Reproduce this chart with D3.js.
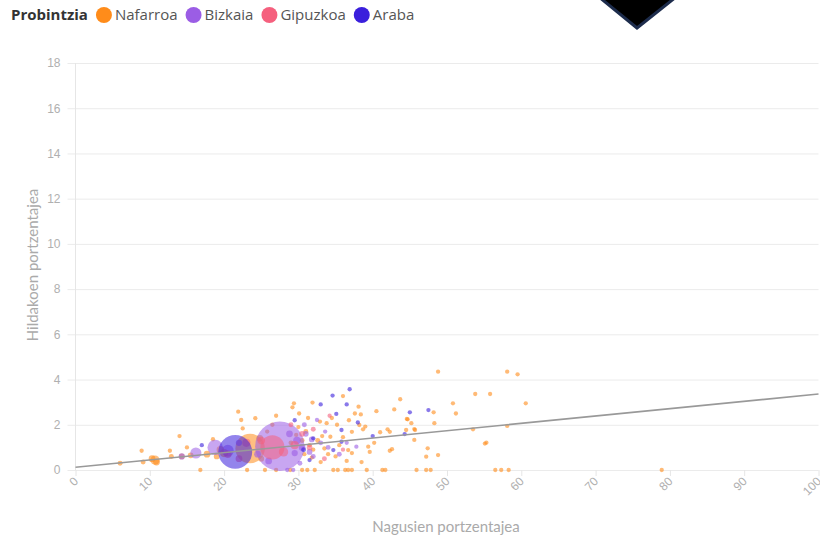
<!DOCTYPE html>
<html><head><meta charset="utf-8">
<script src="https://cdn.jsdelivr.net/npm/d3@7"></script>
<style>
body{margin:0;background:#fff;}
svg{display:block;font-family:Lato,"Open Sans",sans-serif;}
</style></head>
<body><svg id="c" width="820" height="539"></svg>
<script>
// ---- data ----
const provinces = ["Nafarroa","Bizkaia","Gipuzkoa","Araba"];
const colors = ["#ff8c1a","#9b5de5","#f5607e","#3a1fdc"];
const xTicks = [0,10,20,30,40,50,60,70,80,90,100];
const yTicks = [0,2,4,6,8,10,12,14,16,18];
const trend = [[0,0.12],[100,3.36]];
// [x, y, size]
const nafarroa = [
[16.8,0,0.2],[23.1,0,0.2],[25.5,0,0.2],[27.0,0,0.2],[28.9,0,0.2],[30.5,0,0.2],[31.2,0,0.2],[32.2,0,0.2],[34.7,0,0.2],[35.3,0,0.2],[36.3,0,0.2],[36.7,0,0.2],[37.2,0,0.2],[39.2,0,0.2],[41.3,0,0.2],[41.7,0,0.2],[45.9,0,0.2],[47.2,0,0.2],[47.8,0,0.2],[56.5,0,0.2],[57.3,0,0.2],[58.3,0,0.2],[78.9,0,0.2],
[6.0,0.3,0.5],[9.1,0.35,0.5],[8.9,0.85,0.2],[10.7,0.44,6],[10.3,0.5,2],[10.9,0.35,2],[12.7,0.85,0.2],[12.9,0.6,0.5],[14.3,0.6,1],[15.0,1.0,0.2],[15.5,0.65,1],[17.7,0.7,2],[18.5,1.36,0.2],[14.0,1.5,0.2],
[23.5,0.95,110],[19.5,0.9,3],[20.0,0.75,4],[21.9,2.58,0.2],[22.3,2.21,0.2],[22.5,1.84,0.2],[24.2,2.29,0.2],[19.0,0.6,1],[24.8,1.4,2],[25.0,0.5,1],[26.5,2.0,0.2],[27.0,2.4,0.2],[25.8,1.7,0.2],
[29.4,2.95,0.2],[29.2,2.77,0.2],[30.1,2.5,0.2],[31.9,2.98,0.2],[32.9,2.14,0.2],[33.8,2.07,0.2],[31.0,1.7,0.5],[30.5,1.3,0.5],[31.5,1.1,0.2],[32.0,0.9,0.2],[30.8,0.7,0.2],[31.8,0.55,0.2],[32.6,1.3,0.5],[33.2,1.5,0.2],[33.5,0.95,0.2],[34.3,1.47,0.2],[34.0,0.7,0.2],[33.0,0.35,0.2],[30.0,1.9,0.2],[29.7,1.55,0.2],[31.3,2.3,0.2],[29.0,1.2,0.5],
[36.0,3.27,0.2],[38.1,2.8,0.2],[37.6,2.5,0.2],[38.4,2.46,0.2],[38.2,1.99,0.2],[39.0,1.92,0.2],[38.7,1.8,0.2],[37.2,1.69,0.2],[36.0,1.45,0.2],[36.7,0.88,0.2],[37.2,0.75,0.2],[39.4,1.03,0.2],[39.6,0.8,0.2],[35.5,1.1,0.2],[35.0,0.6,0.2],[36.5,0.4,0.2],[38.5,0.35,0.2],[40.2,1.2,0.2],[35.2,2.0,0.2],[34.5,2.3,0.2],[36.8,2.2,0.2],
[43.7,3.13,0.2],[42.9,2.68,0.2],[44.7,2.24,0.2],[41.0,1.67,0.2],[42.0,1.8,0.2],[42.3,1.69,0.2],[45.7,1.77,0.2],[42.6,0.92,0.2],[42.3,0.85,0.2],[44.6,2.26,0.2],[45.2,2.07,0.2],[45.6,1.81,0.2],[44.5,1.77,0.2],[45.6,1.33,0.2],[48.8,4.35,0.2],[48.2,2.55,0.2],[48.3,2.07,0.2],[47.4,0.96,0.2],[47.2,0.59,0.2],[48.8,0.66,0.2],[40.5,2.6,0.2],
[58.1,4.35,0.2],[59.5,4.23,0.2],[53.8,3.36,0.2],[55.8,3.36,0.2],[50.8,2.95,0.2],[60.6,2.95,0.2],[51.2,2.5,0.2],[53.5,1.8,0.2],[58.1,1.95,0.2],[55.3,1.21,0.2],[55.1,1.17,0.2]
];
const bizkaia = [
[27.5,1.05,340],[16.2,0.75,10],[18.8,1.0,24],[20.5,0.85,12],[14.3,0.6,1.5],[28.5,0,0.2],[29.3,0,0.2],
[32.5,2.21,0.2],[31.0,1.6,1],[30.5,1.0,2],[31.5,0.8,1],[29.8,1.3,3],[30.8,2.0,0.5],[33.0,1.2,0.5],[32.0,0.6,0.5],[34.0,1.0,0.5],[37.8,1.03,0.2],[36.5,1.2,0.2],[26.0,0.4,2],[28.8,1.6,2],[29.5,0.75,1.5],[31.8,1.35,1],[24.5,0.7,2],[22.0,1.2,1.5],[33.6,1.7,0.2],[35.5,0.7,0.5],[30.2,0.3,0.5]
];
const gipuzkoa = [
[26.5,1.0,70],[28.0,0.8,6],[30.5,1.6,1],[31.5,1.0,1],[20.5,0.7,3],[25.0,1.3,3],[29.0,2.0,0.5],[32.0,1.8,0.5],[33.5,0.5,0.5],[22.0,0.5,2],[23.0,1.2,4],[34.2,2.4,0.2],[36.0,0.9,0.2],[29.5,1.1,4]
];
const araba = [
[21.5,0.8,150],[17.0,1.1,0.2],[36.9,3.57,0.2],[34.6,3.29,0.2],[36.5,2.9,0.2],[35.1,2.48,0.2],[45.0,2.55,0.2],[47.5,2.65,0.2],[35.8,1.77,0.2],[35.8,1.25,0.2],[44.3,1.59,0.2],[34.7,0.88,0.2],[31.5,0.44,0.2],[32.0,1.4,0.2],[30.7,0.9,0.5],[38.0,2.1,0.2],[33.0,2.9,0.2],[29.5,2.2,0.2],[40.0,1.5,0.2]
];
const series = [nafarroa, bizkaia, gipuzkoa, araba];

// ---- chart ----
const svg = d3.select("#c");
const x = d3.scaleLinear().domain([0,100]).range([75.5,818.5]);
const y = d3.scaleLinear().domain([0,18]).range([470,63]);
const r = d3.scaleSqrt().domain([0,350]).range([1.6,25]);

// y grid + labels
const yAxis = d3.axisLeft(y).tickValues(yTicks).tickSize(747+4).tickPadding(7);
const gy = svg.append("g").attr("transform","translate(818.5,0)").call(yAxis);
gy.select(".domain").remove();
gy.selectAll(".tick line").attr("stroke","#ebebeb");
gy.selectAll(".tick text").attr("fill","#b0b0b0").style("font-size","12px");

// y axis line
svg.append("line").attr("x1",x(0)).attr("x2",x(0)).attr("y1",y(18)).attr("y2",y(0)).attr("stroke","#e6e6e6");

// x axis ticks
const xAxis = d3.axisBottom(x).tickValues(xTicks).tickSize(6).tickFormat(d3.format("d"));
const gx = svg.append("g").attr("transform",`translate(0,${y(0)})`).call(xAxis);
gx.select(".domain").remove();
gx.selectAll(".tick line").attr("stroke","#e6e6e6");
gx.selectAll(".tick text").attr("fill","#b0b0b0").style("font-size","12px")
  .attr("text-anchor","end").attr("dy",null).attr("y",null)
  .attr("transform","translate(3,12) rotate(-45)");

// axis titles
svg.append("text").attr("x",446).attr("y",532).attr("text-anchor","middle")
  .attr("fill","#aaa").style("font-size","15px").text("Nagusien portzentajea");
svg.append("text").attr("transform","translate(38,265) rotate(-90)").attr("text-anchor","middle")
  .attr("fill","#aaa").style("font-size","15px").text("Hildakoen portzentajea");

// points
series.forEach((pts,i)=>{
  svg.append("g").selectAll("circle").data(pts).join("circle")
    .attr("cx",d=>x(d[0])).attr("cy",d=>y(d[1])).attr("r",d=>r(d[2]))
    .attr("fill",colors[i]).attr("fill-opacity",d=>d[2]>5?0.55:0.6);
});

// trend line
svg.append("line").attr("x1",x(trend[0][0])).attr("y1",y(trend[0][1]))
  .attr("x2",x(trend[1][0])).attr("y2",y(trend[1][1]))
  .attr("stroke","#999").attr("stroke-width",1.6);

// legend
const lg = svg.append("g").style("font-family","'Open Sans',sans-serif");
const title = lg.append("text").attr("x",11).attr("y",20).attr("fill","#333")
  .style("font-size","15px").style("font-weight","bold").text("Probintzia");
let lx = 11 + title.node().getComputedTextLength() + 8;
provinces.forEach((p,i)=>{
  lg.append("circle").attr("cx",lx+8).attr("cy",15).attr("r",8).attr("fill",colors[i]);
  const t = lg.append("text").attr("x",lx+19).attr("y",20).attr("fill","#555")
    .style("font-size","15px").text(p);
  lx += 19 + t.node().getComputedTextLength() + 8;
});

// decorative dark marker at top
svg.append("path").attr("d","M599,-3 L637,28 L676,-3 Z")
  .attr("fill","#000").attr("stroke","#1d2c4c").attr("stroke-width",3);
</script></body></html>
